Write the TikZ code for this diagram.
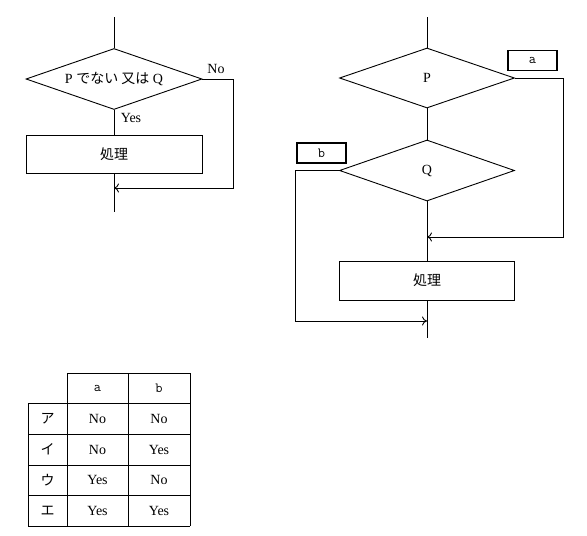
\documentclass[tikz,border=0pt]{standalone}
\usepackage{fontspec}
\setmainfont{Liberation Serif}
\newfontfamily\jp{Noto Sans CJK JP}
\usetikzlibrary{shapes.geometric, arrows.meta}

\begin{document}
\begin{tikzpicture}[x=1pt, y=-1pt, line width=0.9pt, >={To[length=5pt, width=9pt]},
        every node/.style={font=\fontsize{14}{17}\selectfont},
        dia/.style={draw, diamond, aspect=2.9, inner sep=0pt, minimum width=176pt, minimum height=61pt},
        proc/.style={draw, rectangle, inner sep=0pt, minimum width=176pt, minimum height=38pt},
        tag/.style={draw, rectangle, line width=1.4pt, inner sep=0pt, minimum width=49pt, minimum height=20pt, font=\fontsize{14}{16}\ttfamily}]
    \useasboundingbox (0,0) rectangle (587,536);
    % 左の流れ図
    \coordinate (s1) at (114,17);
    \node[dia] (d1) at (114,79) {P\ {\jp でない 又は}\ Q};
    \node[proc] (p1) at (114,154) {\jp 処理};
    \coordinate (e1) at (114,212);
    \coordinate (n1) at (233,79);
    \coordinate (m1) at (114,188);
    \draw (s1) -- (d1.north);
    \draw (d1.south) -- (p1.north);
    \draw (p1.south) -- (e1);
    \draw[->] (d1.east) -- (n1) |- (m1);
    % Yes / No のラベル
    \node[draw=none] (no1) at (216,69) {No};
    \node[draw=none] (yes1) at (131,118) {Yes};
    % 右の流れ図
    \coordinate (s2) at (427,17);
    \node[dia, minimum width=175pt, minimum height=60pt] (dp) at (427,78) {P};
    \node[dia, minimum width=175pt] (dq) at (427,170.5) {Q};
    \node[proc, minimum width=175pt, minimum height=39pt] (p2) at (427,280.5) {\jp 処理};
    \coordinate (e2) at (427,338);
    \draw (s2) -- (dp.north);
    \draw (dp.south) -- (dq.north);
    \draw (dq.south) -- (p2.north);
    \draw (p2.south) -- (e2);
    % a の分岐
    \coordinate (na) at (563,78);
    \coordinate (ma) at (427,237);
    \draw[->] (dp.east) -- (na) |- (ma);
    \node[tag] (ta) at (532.5,60.5) {a};
    % b の分岐
    \coordinate (nb) at (295,170.5);
    \coordinate (mb) at (427,321);
    \draw[->] (dq.west) -- (nb) |- (mb);
    \node[tag] (tb) at (321.5,153) {b};
    % 解答群の表（左上のセルは枠なし）
    \draw (67,373) -- (190,373);
    \draw (28,403) -- (190,403);
    \draw (28,434) -- (190,434);
    \draw (28,465) -- (190,465);
    \draw (28,495) -- (190,495);
    \draw (28,526) -- (190,526);
    \draw (28,403) -- (28,526);
    \draw (67,373) -- (67,526);
    \draw (128,373) -- (128,526);
    \draw (190,373) -- (190,526);
    % 見出し
    \node[draw=none, font=\fontsize{14}{16}\ttfamily] (ha) at (97.5,388) {a};
    \node[draw=none, font=\fontsize{14}{16}\ttfamily] (hb) at (159,388) {b};
    % 各行
    \node[draw=none] (r1) at (47.5,418.5) {\jp ア};
    \node[draw=none] (r1a) at (97.5,418.5) {No};
    \node[draw=none] (r1b) at (159,418.5) {No};
    \node[draw=none] (r2) at (47.5,449.5) {\jp イ};
    \node[draw=none] (r2a) at (97.5,449.5) {No};
    \node[draw=none] (r2b) at (159,449.5) {Yes};
    \node[draw=none] (r3) at (47.5,480) {\jp ウ};
    \node[draw=none] (r3a) at (97.5,480) {Yes};
    \node[draw=none] (r3b) at (159,480) {No};
    \node[draw=none] (r4) at (47.5,510.5) {\jp エ};
    \node[draw=none] (r4a) at (97.5,510.5) {Yes};
    \node[draw=none] (r4b) at (159,510.5) {Yes};
\end{tikzpicture}
\end{document}
